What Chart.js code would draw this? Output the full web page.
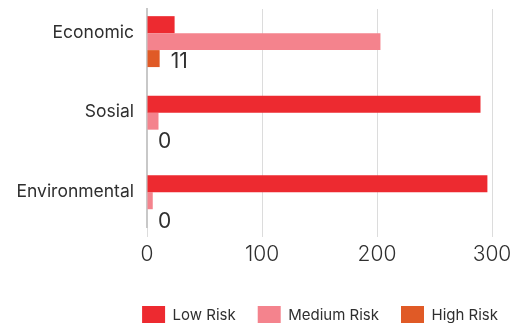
<!DOCTYPE html>
<html>
<head>
<meta charset="utf-8">
<script src="https://cdn.jsdelivr.net/npm/chart.js@4"></script>
<style>
html, body { margin: 0; padding: 0; background: #fff; }
#wrap { width: 514px; height: 323px; }
</style>
</head>
<body>
<div id="wrap"><canvas id="risk-chart"></canvas></div>
<script>
// risk counts per category
var categories = ['Economic', 'Sosial', 'Environmental'];
var lowRisk = [24, 290, 296];
var mediumRisk = [203, 10, 5];
var highRisk = [11, 0, 0];
var xTicks = [0, 100, 200, 300];

var FONT = 'Inter, "Noto Sans", sans-serif';
var TEXT = '#2f2f2f';

function points(values) {
    return values.map(function(v, i) { return { x: v, y: i }; });
}

// value text next to the High Risk bars
var valueLabels = {
    id: 'valueLabels',
    afterDatasetsDraw: function(chart) {
        var ctx = chart.ctx;
        var meta = chart.getDatasetMeta(2);
        ctx.save();
        ctx.font = '21px ' + FONT;
        ctx.fillStyle = TEXT;
        ctx.textBaseline = 'middle';
        meta.data.forEach(function(bar, i) {
            ctx.fillText(String(highRisk[i]), bar.x + 11, bar.y + 3.5);
        });
        ctx.restore();
    }
};

var rc = document.getElementById('risk-chart');

var riskChart = new Chart(rc, {
    type: 'bar',
    data: {
        datasets: [{
            label: 'Low Risk',
            data: points(lowRisk),
            backgroundColor: '#ED2A30'
        },
        {
            label: 'Medium Risk',
            data: points(mediumRisk),
            backgroundColor: '#F4838D'
        },
        {
            label: 'High Risk',
            data: points(highRisk),
            backgroundColor: '#E05A26'
        }]
    },
    options: {
        indexAxis: 'y',
        animation: false,
        responsive: true,
        maintainAspectRatio: false,
        categoryPercentage: 0.64,
        barPercentage: 1,
        layout: {
            padding: { top: 9, right: -6, bottom: -12, left: 0 }
        },
        scales: {
            x: {
                min: 0,
                max: 300,
                afterBuildTicks: function(scale) {
                    scale.ticks = xTicks.map(function(v) { return { value: v }; });
                },
                afterFit: function(scale) {
                    scale.height = 57;
                    scale.paddingLeft = 0;
                    scale.paddingRight = 22;
                },
                grid: { color: '#dcdcdc', tickLength: 10 },
                border: { display: false },
                ticks: {
                    color: TEXT,
                    padding: 5,
                    font: { family: FONT, size: 21, weight: '300' }
                }
            },
            y: {
                type: 'linear',
                reverse: true,
                offset: false,
                bounds: 'data',
                afterDataLimits: function(scale) {
                    scale.min = -0.41;
                    scale.max = 2.33;
                },
                afterBuildTicks: function(scale) {
                    scale.ticks = categories.map(function(c, i) { return { value: i }; });
                },
                afterFit: function(scale) {
                    scale.width = 147;
                    scale.paddingTop = 0;
                    scale.paddingBottom = 0;
                },
                grid: { display: false },
                border: { color: '#c8c8c8', width: 2 },
                ticks: {
                    color: TEXT,
                    padding: 5,
                    labelOffset: -9,
                    font: { family: FONT, size: 17.5 },
                    callback: function(value) { return categories[value]; }
                }
            }
        },
        plugins: {
            legend: {
                position: 'bottom',
                align: 'end',
                labels: {
                    boxWidth: 23,
                    boxHeight: 19,
                    padding: 22,
                    color: TEXT,
                    font: { family: FONT, size: 15 }
                }
            },
            tooltip: { enabled: false }
        }
    },
    plugins: [valueLabels]
});
</script>
</body>
</html>
